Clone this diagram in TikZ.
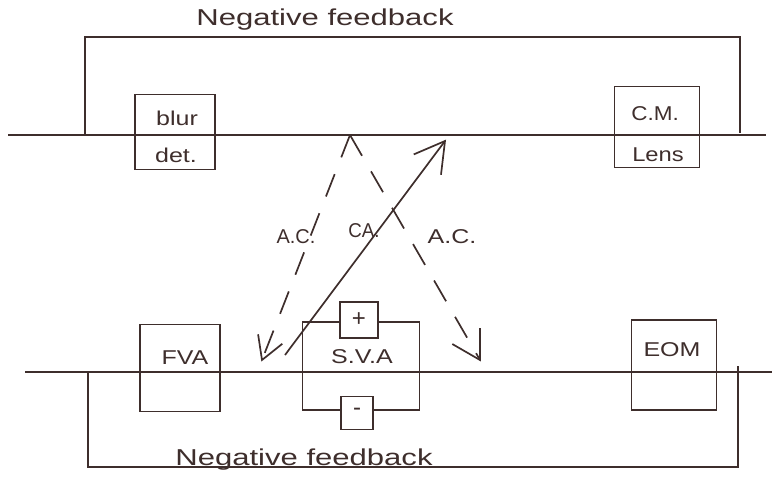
\documentclass[tikz,border=0pt]{standalone}
\usepackage{fontspec}
\setmainfont{Liberation Sans}
\usetikzlibrary{calc}
\definecolor{ink}{RGB}{62,46,44}
\tikzset{
  pen/.style={draw=ink, line width=1.7pt},
  unitbox/.style={pen, rectangle, inner sep=0pt},
  lbl/.style={text=ink, font=\fontsize{20}{24}\selectfont, xscale=1.25, inner sep=0pt},
  biglbl/.style={text=ink, font=\fontsize{23}{28}\selectfont, xscale=1.35, inner sep=0pt},
  dashline/.style={pen, dash pattern=on 24pt off 18pt}
}
% open V-shaped head at #1, pointing away from #2, arms #3 long
\newcommand\vhead[3]{%
  \draw[pen, line join=miter] ($(#1)!#3!30:(#2)$) -- (#1) -- ($(#1)!#3!-30:(#2)$);}
\begin{document}
\begin{tikzpicture}[x=1pt,y=-1pt]
\useasboundingbox (0,0) rectangle (775,487);

% ---------- upper optical path ----------
\coordinate (tL) at (8,135);
\coordinate (tR) at (766,135);
\draw[pen] (tL) -- (tR);

\node[unitbox, minimum width=80pt, minimum height=75pt] (blur) at (175,132) {};
\node[lbl] (blurtxt) at (177,118) {blur};
\node[lbl] (dettxt) at (176,155) {det.};

\node[unitbox, minimum width=85pt, minimum height=81pt] (cm) at (657,127) {};
\node[lbl, xscale=0.9] (cmtxt) at (655,114) {C.M.};
\node[lbl, xscale=0.95] (lenstxt) at (658,155) {Lens};

% upper feedback loop
\coordinate (fa) at (85,135);
\coordinate (fb) at (85,37);
\coordinate (fc) at (740,37);
\coordinate (fd) at (740,133);
\draw[pen] (fa) -- (fb) -- (fc) -- (fd);
\node[biglbl] (nfTop) at (325,20) {Negative feedback};

% ---------- lower optical path ----------
\coordinate (bL) at (25,372);
\coordinate (bR) at (772,372);
\draw[pen] (bL) -- (bR);

\node[unitbox, minimum width=80pt, minimum height=87pt] (fva) at (180,368) {};
\node[lbl] (fvatxt) at (185,358) {FVA};

\node[unitbox, minimum width=117pt, minimum height=88pt] (sva) at (361,366) {};
\node[unitbox, fill=white, minimum width=38pt, minimum height=36pt] (plus) at (359,320) {};
\node[text=ink, font=\fontsize{24}{26}\selectfont, inner sep=0pt] (plustxt) at (359,320) {+};
\node[unitbox, fill=white, minimum width=32pt, minimum height=33pt] (minus) at (357,413) {};
\node[text=ink, font=\fontsize{24}{26}\selectfont, inner sep=0pt] (minustxt) at (357,412) {-};
\node[lbl] (svatxt) at (362,357) {S.V.A};

\node[unitbox, minimum width=85pt, minimum height=90pt] (eom) at (674,365) {};
\node[lbl] (eomtxt) at (672,350) {EOM};

% lower feedback loop
\coordinate (ga) at (88,372);
\coordinate (gb) at (88,467);
\coordinate (gc) at (738,467);
\coordinate (gd) at (738,366);
\draw[pen] (ga) -- (gb) -- (gc) -- (gd);
\node[biglbl] (nfBot) at (304,460) {Negative feedback};

% ---------- cross connections ----------
\coordinate (apex) at (350,135);
\coordinate (acL) at (262,360);
\coordinate (acR) at (480,360);
\coordinate (caS) at (285,355);
\coordinate (caE) at (445,141);
\draw[dashline] (apex) -- (acL);
\vhead{acL}{apex}{26pt}
\draw[dashline] (apex) -- (acR);
\vhead{acR}{apex}{32pt}
\draw[pen] (caS) -- (caE);
\vhead{caE}{caS}{34pt}

\node[lbl, xscale=0.8] (acLtxt) at (296,237) {A.C.};
\node[lbl, xscale=0.75] (catxt) at (364,231) {CA.};
\node[lbl] (acRtxt) at (452,237) {A.C.};
\end{tikzpicture}
\end{document}
